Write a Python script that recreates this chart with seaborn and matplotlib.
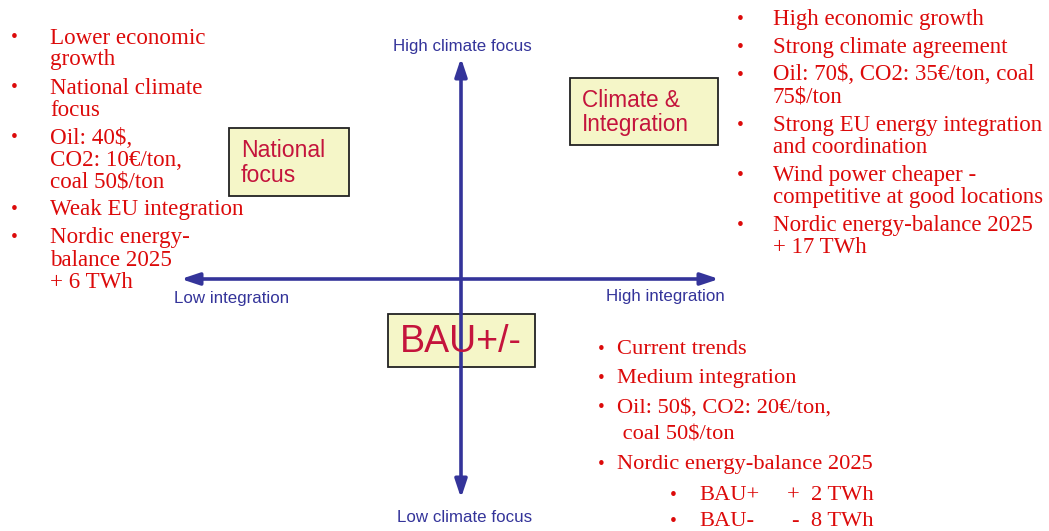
import matplotlib
matplotlib.use("Agg")
import matplotlib.pyplot as plt
import matplotlib.patches as mpatches
import seaborn as sns

# ---------------------------------------------------------------
# scenario text
# ---------------------------------------------------------------
national_items = [
    ["Lower economic", "growth"],
    ["National climate", "focus"],
    ["Oil: 40$,", "CO2: 10€/ton,", "coal 50$/ton"],
    ["Weak EU integration"],
    ["Nordic energy-", "balance 2025", "+ 6 TWh"],
]
climate_items = [
    ["High economic growth"],
    ["Strong climate agreement"],
    ["Oil: 70$, CO2: 35€/ton, coal", "75$/ton"],
    ["Strong EU energy integration", "and coordination"],
    ["Wind power cheaper -", "competitive at good locations"],
    ["Nordic energy-balance 2025", "+ 17 TWh"],
]
bau_items = [
    ["Current trends"],
    ["Medium integration"],
    ["Oil: 50$, CO2: 20€/ton,", " coal 50$/ton"],
    ["Nordic energy-balance 2025"],
]
bau_sub_names = ["BAU+", "BAU-"]
bau_sub_values = ["+  2 TWh", "-  8 TWh"]

box_labels = ["National\nfocus", "Climate &\nIntegration", "BAU+/-"]
axis_labels = ["High climate focus", "Low climate focus", "Low integration", "High integration"]

RED = "#dc0a0a"
BOX_RED = "#c4143c"
BLUE = "#34349a"
BOX_FILL = "#f5f6c8"

sns.set_theme(style="white")
plt.rcParams["font.family"] = ["Liberation Sans", "DejaVu Sans"]

fig = plt.figure(figsize=(10.49, 5.31), dpi=100)
ax = fig.add_axes([0, 0, 1, 1])
ax.set_xlim(0, 1049)
ax.set_ylim(531, 0)
ax.axis("off")

# axes arrows
arrow_kw = dict(arrowstyle="<|-|>,head_length=0.9,head_width=0.3", color=BLUE, lw=2.6,
                shrinkA=0, shrinkB=0)
ax.annotate("", xy=(461, 58), xytext=(461, 498), arrowprops=arrow_kw)
ax.annotate("", xy=(181, 279), xytext=(719, 279), arrowprops=arrow_kw)

lab_kw = dict(color=BLUE, fontsize=12.2, ha="center", va="center")
ax.text(462, 46, axis_labels[0], **lab_kw)
ax.text(465, 517, axis_labels[1], **lab_kw)
ax.text(232, 298, axis_labels[2], **lab_kw)
ax.text(665, 297, axis_labels[3], **lab_kw)

# scenario boxes
boxes = [(229, 128, 120, 68, 16.6), (570, 78, 148, 67, 16.3), (388, 314, 147, 53, 27)]
for (x0, y0, w, h, fs), lab in zip(boxes, box_labels):
    ax.add_patch(mpatches.Rectangle((x0, y0), w, h, facecolor=BOX_FILL,
                                    edgecolor="#222222", lw=1.3))
    ax.text(x0 + 12, y0 + h / 2 + 1, lab, color=BOX_RED, fontsize=fs,
            ha="left", va="center", linespacing=1.1)


def bullet_list(items, xb, xt, y0, line_gap, item_gap, fs):
    y = y0
    for item in items:
        ax.text(xb, y, "•", color=RED, fontsize=fs * 0.85, ha="center", va="center",
                family="Liberation Serif")
        for k, line in enumerate(item):
            ax.text(xt, y, line, color=RED, fontsize=fs, ha="left", va="center",
                    family="Liberation Serif")
            if k < len(item) - 1:
                y += line_gap
        y += item_gap
    return y


bullet_list(national_items, 14, 50, 38, 22, 28, 16.6)
bullet_list(climate_items, 740, 773, 20, 22.5, 27.5, 16.5)
bullet_list(bau_items, 601, 617, 349, 27, 29.5, 16.2)

for k, (name, val) in enumerate(zip(bau_sub_names, bau_sub_values)):
    yy = 495 + k * 27
    ax.text(673, yy, "•", color=RED, fontsize=14, ha="center", va="center",
            family="Liberation Serif")
    ax.text(699, yy, name, color=RED, fontsize=16.2, ha="left", va="center",
            family="Liberation Serif")
    ax.text(874, yy, val, color=RED, fontsize=16.2, ha="right", va="center",
            family="Liberation Serif")

fig.savefig("out.png", dpi=100, facecolor="white")
